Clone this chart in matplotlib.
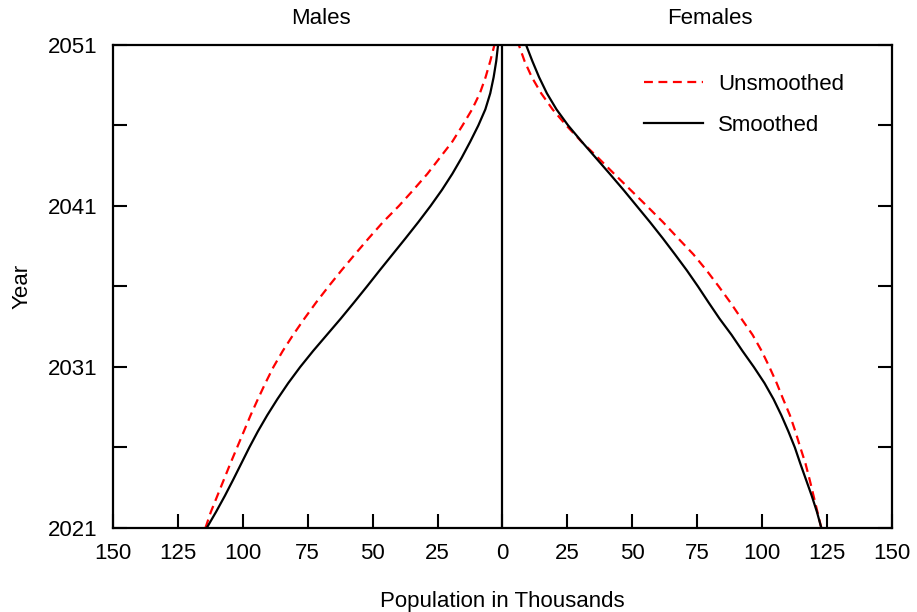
import numpy as np
import matplotlib
matplotlib.use("Agg")
import matplotlib.pyplot as plt
from matplotlib.ticker import FuncFormatter


years = list(range(2021, 2052))

# population in thousands
males_unsmoothed = [114.4, 112.3, 109.8, 107.3, 104.8, 102.2, 99.6, 97.0, 94.2, 91.3,
                    88.2, 84.6, 80.6, 76.3, 71.8, 67.0, 62.0, 56.8, 51.5, 46.0,
                    39.9, 34.3, 28.9, 24.1, 19.3, 15.4, 11.7, 8.7, 6.5, 4.7, 3.1]
males_smoothed = [113.9, 110.3, 106.9, 103.7, 100.6, 97.5, 94.2, 90.6, 86.7, 82.5,
                  77.9, 72.9, 67.6, 62.3, 57.2, 52.2, 47.3, 42.3, 37.3, 32.4,
                  27.7, 23.3, 19.3, 15.7, 12.4, 9.3, 6.6, 4.7, 3.4, 2.4, 1.7]
females_unsmoothed = [122.8, 121.3, 119.8, 118.3, 116.7, 114.7, 112.8, 110.7, 108.1, 105.6,
                      102.8, 99.8, 96.3, 92.0, 87.8, 83.3, 78.6, 73.5, 67.6, 61.8,
                      55.6, 49.3, 43.0, 36.8, 30.4, 24.6, 19.3, 14.9, 11.3, 8.5, 6.3]
females_smoothed = [122.8, 121.1, 119.1, 116.9, 114.7, 112.6, 110.1, 107.4, 104.4, 100.9,
                    96.8, 92.4, 88.2, 83.6, 79.4, 75.3, 71.0, 66.4, 61.7, 56.8,
                    51.7, 46.6, 41.3, 35.9, 30.5, 25.3, 20.8, 17.1, 14.1, 11.5, 9.1]

x_ticks = list(range(-150, 151, 25))
y_ticks = list(range(2021, 2052, 5))
y_labels = ["2021", "", "2031", "", "2041", "", "2051"]

plt.rcParams["font.family"] = ["Liberation Sans", "DejaVu Sans"]
plt.rcParams["font.size"] = 16

fig = plt.figure(figsize=(9.17, 6.12), dpi=100)
ax = fig.add_axes([0.1232, 0.1373, 0.8495, 0.7892])

red = "#ff0000"
ax.plot(-np.array(males_unsmoothed), years, color=red, lw=1.6, dashes=(4, 2.5),
        label="Unsmoothed")
ax.plot(-np.array(males_smoothed), years, color="black", lw=1.6, label="Smoothed")
ax.plot(females_unsmoothed, years, color=red, lw=1.6, dashes=(4, 2.5))
ax.plot(females_smoothed, years, color="black", lw=1.6)
ax.axvline(0, color="black", lw=1.6)

ax.set_xlim(-150, 150)
ax.set_ylim(2021, 2051)
ax.set_xticks(x_ticks)
ax.xaxis.set_major_formatter(FuncFormatter(lambda v, p: f"{abs(int(v))}"))
ax.set_yticks(y_ticks)
ax.set_yticklabels(y_labels)

ax.tick_params(axis="x", direction="in", length=10, width=1.5, pad=11, top=False)
ax.tick_params(axis="y", direction="in", length=10, width=1.5, pad=11.5, right=True)
for s in ax.spines.values():
    s.set_linewidth(1.6)

ax.set_xlabel("Population in Thousands", labelpad=19)
ax.set_ylabel("Year", labelpad=11)

ax.text(-70, 2052.0, "Males", ha="center", va="bottom")
ax.text(80, 2052.0, "Females", ha="center", va="bottom")

ax.legend(loc="upper left", bbox_to_anchor=(0.682, 0.94), frameon=False,
          borderpad=0, borderaxespad=0, handlelength=2.65, handletextpad=0.68,
          labelspacing=0.9)

fig.savefig("out.png", dpi=100)
